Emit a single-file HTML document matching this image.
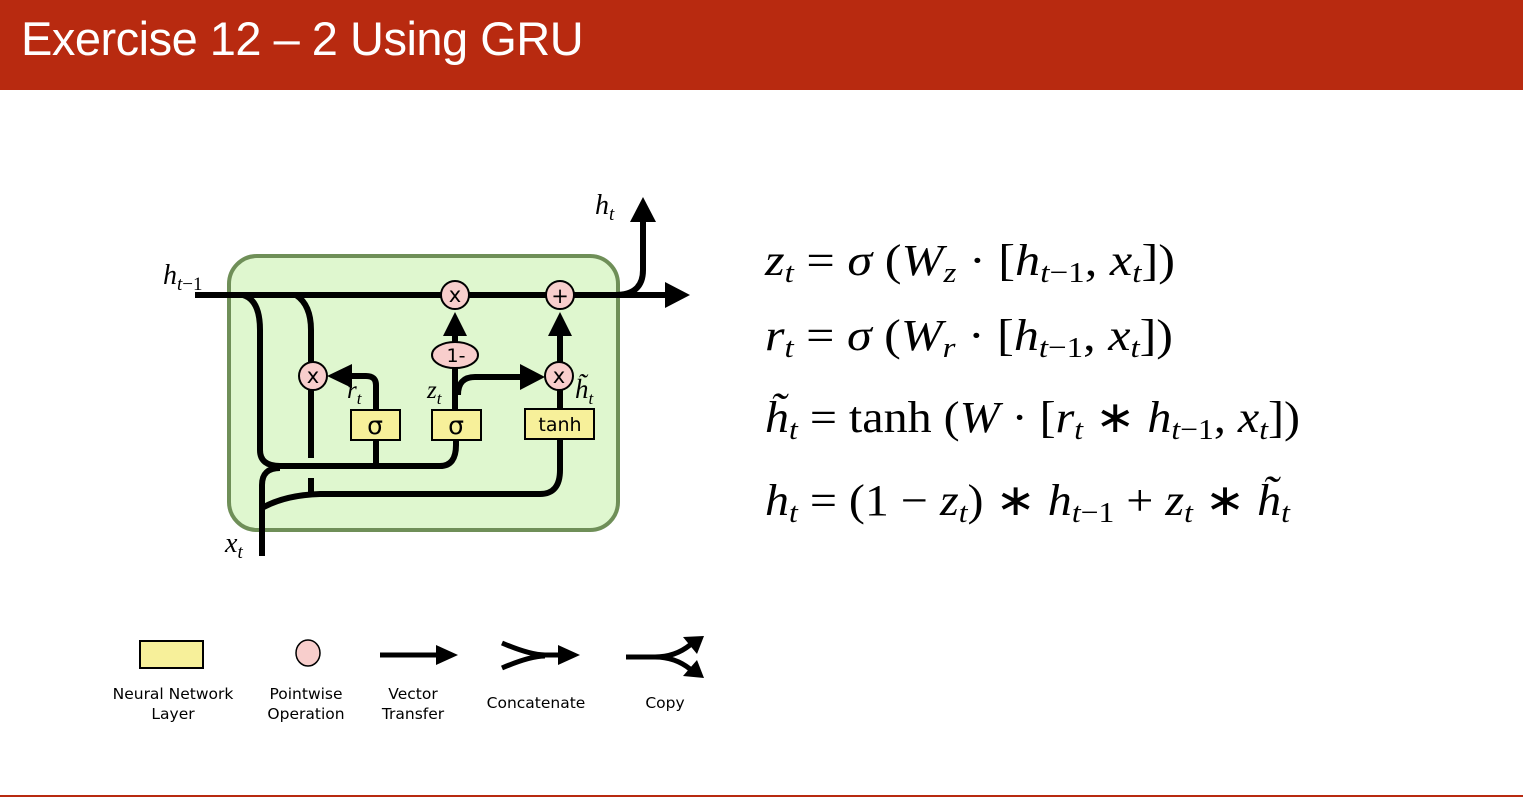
<!DOCTYPE html>
<html><head><meta charset="utf-8"><style>
html,body{margin:0;padding:0;background:#fff;}
body{width:1523px;height:797px;position:relative;overflow:hidden;font-family:"Liberation Sans",sans-serif;}
.hdr{position:absolute;left:0;top:0;width:1523px;height:90px;background:#b82a10;}
.hdr div{position:absolute;left:21px;top:11px;color:#fff;font-size:47px;font-family:"Liberation Sans",sans-serif;letter-spacing:-0.5px;}
.bl{position:absolute;left:0;top:795px;width:1523px;height:2px;background:#b82a10;}
svg{position:absolute;left:0;top:0;}
</style></head><body>
<div class="hdr"><div>Exercise 12 – 2 Using GRU</div></div>
<div class="bl"></div>
<svg width="1523" height="797" viewBox="0 0 1523 797">
<rect x="229" y="256" width="389" height="274" rx="28" fill="#dff7cf" stroke="#6f8f58" stroke-width="4"/>
<g fill="none" stroke="#000" stroke-width="6" stroke-linecap="butt">
<path d="M195 295 H665"/>
<path d="M615 295 Q643 295 643 270 V222"/>
<path d="M243 295 Q260 300 260 330 V450 Q260 466 280 466 H440 Q456 466 456 445 V440"/>
<path d="M376 466 V440"/>
<path d="M296 295 Q311 305 311 330 V458"/>
<path d="M311 478 V494"/>
<path d="M262 556 V485 Q262 468 280 468"/>
<path d="M262 508 Q285 495 320 494 H540 Q560 494 560 470 V440"/>
<path d="M376 410 V385 Q376 376 366 376 H348"/>
<path d="M455 410 V368"/>
<path d="M455 342 V334"/>
<path d="M458 395 Q458 377 475 377 H520"/>
<path d="M560 408 V390"/>
<path d="M560 362 V334"/>
</g>
<g fill="#000">
<path d="M665 282 L690 295 L665 308 z"/>
<path d="M630 222 L643 197 L656 222 z"/>
<path d="M352 364 L327 376 L352 388 z"/>
<path d="M443 336 L455 312 L467 336 z"/>
<path d="M520 364 L545 377 L520 390 z"/>
<path d="M548 336 L560 312 L572 336 z"/>
</g>
<g fill="#f8cecc" stroke="#000" stroke-width="2">
<circle cx="455" cy="295" r="14"/><circle cx="560" cy="295" r="14"/>
<circle cx="313" cy="376" r="14"/><circle cx="559" cy="376" r="14"/>
<ellipse cx="455" cy="355" rx="23" ry="13"/>
</g>
<g fill="#f7f09a" stroke="#000" stroke-width="2">
<rect x="351" y="410" width="49" height="30"/><rect x="432" y="410" width="49" height="30"/><rect x="525" y="409" width="69" height="30"/>
</g>
<g font-family="DejaVu Sans, sans-serif" text-anchor="middle" font-size="21">
<text x="455" y="302">x</text><text x="560" y="303">+</text><text x="313" y="383">x</text><text x="559" y="383">x</text>
<text x="456" y="362" font-size="19">1-</text>
<text x="375" y="434" font-size="25">σ</text><text x="456" y="434" font-size="25">σ</text>
<text x="560" y="431" font-size="19">tanh</text>
</g>
<g font-family="Liberation Serif, serif" font-style="italic" font-size="28">
<text x="163" y="284">h<tspan font-size="19" dy="6">t</tspan><tspan font-size="19" font-style="normal">−1</tspan></text>
<text x="595" y="214">h<tspan font-size="19" dy="6">t</tspan></text>
<text x="347" y="398" font-size="25">r<tspan font-size="17" dy="6">t</tspan></text>
<text x="427" y="398" font-size="25">z<tspan font-size="17" dy="6">t</tspan></text>
<text x="575" y="398" font-size="27">h̃<tspan font-size="17" dy="6">t</tspan></text>
<text x="225" y="552">x<tspan font-size="19" dy="6">t</tspan></text>
</g>
<g font-family="Liberation Serif, serif" font-size="44">
<text x="765" y="275" textLength="410" lengthAdjust="spacingAndGlyphs"><tspan font-style="italic">z</tspan><tspan font-style="italic" font-size="29" dy="7">t</tspan><tspan dy="-7"> = </tspan><tspan font-style="italic">σ</tspan> (<tspan font-style="italic">W</tspan><tspan font-style="italic" font-size="29" dy="7">z</tspan><tspan dy="-7"> · [</tspan><tspan font-style="italic">h</tspan><tspan font-size="29" dy="7"><tspan font-style="italic">t</tspan>−1</tspan><tspan dy="-7">, </tspan><tspan font-style="italic">x</tspan><tspan font-style="italic" font-size="29" dy="7">t</tspan><tspan dy="-7">])</tspan></text>
<text x="765" y="350" textLength="408" lengthAdjust="spacingAndGlyphs"><tspan font-style="italic">r</tspan><tspan font-style="italic" font-size="29" dy="7">t</tspan><tspan dy="-7"> = </tspan><tspan font-style="italic">σ</tspan> (<tspan font-style="italic">W</tspan><tspan font-style="italic" font-size="29" dy="7">r</tspan><tspan dy="-7"> · [</tspan><tspan font-style="italic">h</tspan><tspan font-size="29" dy="7"><tspan font-style="italic">t</tspan>−1</tspan><tspan dy="-7">, </tspan><tspan font-style="italic">x</tspan><tspan font-style="italic" font-size="29" dy="7">t</tspan><tspan dy="-7">])</tspan></text>
<text x="765" y="432" textLength="535" lengthAdjust="spacingAndGlyphs"><tspan font-style="italic">h̃</tspan><tspan font-style="italic" font-size="29" dy="7">t</tspan><tspan dy="-7"> = tanh (</tspan><tspan font-style="italic">W</tspan> · [<tspan font-style="italic">r</tspan><tspan font-style="italic" font-size="29" dy="7">t</tspan><tspan dy="-7"> ∗ </tspan><tspan font-style="italic">h</tspan><tspan font-size="29" dy="7"><tspan font-style="italic">t</tspan>−1</tspan><tspan dy="-7">, </tspan><tspan font-style="italic">x</tspan><tspan font-style="italic" font-size="29" dy="7">t</tspan><tspan dy="-7">])</tspan></text>
<text x="765" y="515" textLength="525" lengthAdjust="spacingAndGlyphs"><tspan font-style="italic">h</tspan><tspan font-style="italic" font-size="29" dy="7">t</tspan><tspan dy="-7"> = (1 − </tspan><tspan font-style="italic">z</tspan><tspan font-style="italic" font-size="29" dy="7">t</tspan><tspan dy="-7">) ∗ </tspan><tspan font-style="italic">h</tspan><tspan font-size="29" dy="7"><tspan font-style="italic">t</tspan>−1</tspan><tspan dy="-7"> + </tspan><tspan font-style="italic">z</tspan><tspan font-style="italic" font-size="29" dy="7">t</tspan><tspan dy="-7"> ∗ </tspan><tspan font-style="italic">h̃</tspan><tspan font-style="italic" font-size="29" dy="7">t</tspan></text>
</g>
<!-- legend -->
<rect x="140" y="641" width="63" height="27" fill="#f7f09a" stroke="#000" stroke-width="2"/>
<ellipse cx="308" cy="653" rx="12" ry="13" fill="#f8cecc" stroke="#000" stroke-width="1.5"/>
<g fill="none" stroke="#000" stroke-width="5">
<path d="M380 655 H438"/>
<path d="M502 643 Q530 655 545 655 H560"/>
<path d="M502 668 Q530 656 545 656"/>
<path d="M626 657 H655 Q675 657 690 645"/>
<path d="M655 657 Q675 657 690 669"/>
</g>
<g fill="#000">
<path d="M436 645 L458 655 L436 665 z"/>
<path d="M558 645 L580 655 L558 665 z"/>
<path d="M683 637 L704 636 L697 654 z"/>
<path d="M683 676 L704 678 L697 660 z"/>
</g>
<g font-family="DejaVu Sans, sans-serif" font-size="15.5" text-anchor="middle" fill="#000">
<text x="173" y="699">Neural Network</text><text x="173" y="719">Layer</text>
<text x="306" y="699">Pointwise</text><text x="306" y="719">Operation</text>
<text x="413" y="699">Vector</text><text x="413" y="719">Transfer</text>
<text x="536" y="708">Concatenate</text>
<text x="665" y="708">Copy</text>
</g>
</svg>
</body></html>
